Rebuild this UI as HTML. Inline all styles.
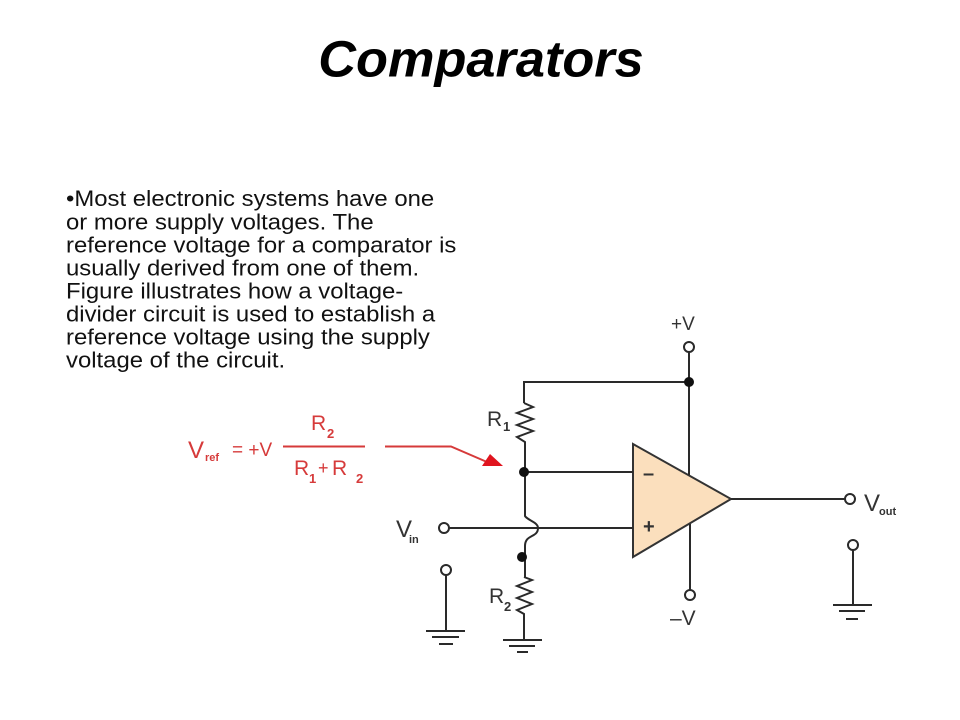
<!DOCTYPE html>
<html><head><meta charset="utf-8"><style>
html,body{margin:0;padding:0;background:#fff}
svg{display:block}
text{font-family:"Liberation Sans",sans-serif}
</style></head><body>
<svg width="960" height="720" viewBox="0 0 960 720" xmlns="http://www.w3.org/2000/svg">
<rect width="960" height="720" fill="#fff"/>
<text transform="translate(481,76.500) scale(1,.98)" text-anchor="middle" font-size="52.3" font-weight="bold" font-style="italic" fill="#000">Comparators</text>
<g font-size="23.9" fill="#111">
<text transform="translate(66,206) scale(1,.92)">•Most electronic systems have one</text>
<text transform="translate(66,229.500) scale(1,.92)">or more supply voltages. The</text>
<text transform="translate(66,252.500) scale(1,.92)">reference voltage for a comparator is</text>
<text transform="translate(66,275.500) scale(1,.92)">usually derived from one of them.</text>
<text transform="translate(66,298.500) scale(1,.92)">Figure illustrates how a voltage-</text>
<text transform="translate(66,321.500) scale(1,.92)">divider circuit is used to establish a</text>
<text transform="translate(66,344.500) scale(1,.92)">reference voltage using the supply</text>
<text transform="translate(66,367.500) scale(1,.92)">voltage of the circuit.</text>
</g>
<polygon points="633,444 731,499 633,557" fill="#fbdfbd" stroke="#333" stroke-width="2"/>
<g fill="none" stroke="#2a2a2a" stroke-width="2">
<path d="M524,403V382H689"/>
<path d="M689,352V475"/>
<path d="M524,403l9,4l-16,6l16,6l-16,6l16,6l-16,6l8,5V516c2,4 13,6 13,12c0,10 -13,6 -13,18V577"/>
<path d="M524,472H633"/>
<path d="M449,528H633"/>
<path d="M524,577l8,3l-15,6l15,6l-15,6l15,6l-15,6l7,4V640"/>
<path d="M690,524V590"/>
<path d="M731,499H845"/>
<path d="M446,575V631"/>
<path d="M853,550V605"/>
<path d="M426,631H465M432,637H459M439,644H453"/>
<path d="M503,640H542M509,646H535M517,652H528"/>
<path d="M833,605H872M839,611H865M846,619H858"/>
<circle cx="689" cy="347" r="5"/>
<circle cx="444" cy="528" r="5"/>
<circle cx="446" cy="570" r="5"/>
<circle cx="690" cy="595" r="5"/>
<circle cx="850" cy="499" r="5"/>
<circle cx="853" cy="545" r="5"/>
</g>
<circle cx="689" cy="382" r="5" fill="#111"/>
<circle cx="524" cy="472" r="5" fill="#111"/>
<circle cx="522" cy="557" r="5" fill="#111"/>
<g fill="#333" font-size="21">
<text x="671" y="330" font-size="19">+V</text>
<text x="487" y="426">R</text><text x="503" y="431" font-size="13" font-weight="bold">1</text>
<text x="489" y="603">R</text><text x="504" y="611" font-size="13" font-weight="bold">2</text>
<text x="396" y="537" font-size="24">V</text><text x="409" y="543" font-size="11" font-weight="bold">in</text>
<text x="864" y="511" font-size="24">V</text><text x="879" y="515" font-size="11" font-weight="bold">out</text>
<text x="670" y="625">–V</text>
<text x="643" y="480" font-size="20" font-weight="bold">–</text>
<text x="643" y="533" font-size="20" font-weight="bold">+</text>
</g>
<g fill="#d63a3a" font-size="21">
<text x="188" y="458" font-size="24">V</text>
<text x="205" y="461" font-size="11" font-weight="bold">ref</text>
<text x="232" y="456" font-size="19">= +V</text>
<text x="311" y="430">R</text><text x="327" y="438" font-size="13" font-weight="bold">2</text>
<text x="294" y="475">R</text><text x="309" y="483" font-size="13" font-weight="bold">1</text>
<text x="318" y="474" font-size="18">+</text>
<text x="332" y="475">R</text><text x="356" y="483" font-size="13" font-weight="bold">2</text>
</g>
<path d="M283,446.500H365M385,446.500H451L487,462" fill="none" stroke="#d63a3a" stroke-width="2"/>
<polygon points="490,454 503,466 482,466" fill="#e0141e"/>
</svg>
</body></html>
